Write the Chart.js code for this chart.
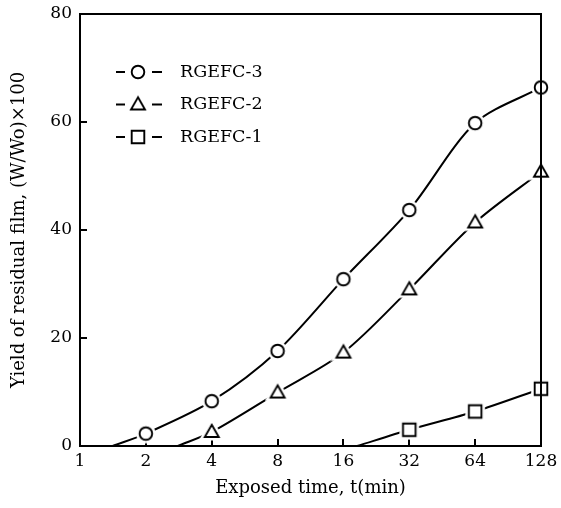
<!DOCTYPE html>
<html>
<head>
<meta charset="utf-8">
<script src="https://cdn.jsdelivr.net/npm/chart.js@4.4.1/dist/chart.umd.min.js"></script>
<style>
html, body { margin: 0; padding: 0; background: #fff; }
#wrap { width: 561px; height: 508px; position: relative; }
</style>
</head>
<body>
<div id="wrap"><canvas id="c"></canvas></div>
<script>
// ---- data ----
const xTickLabels = [1, 2, 4, 8, 16, 32, 64, 128];
const yTickLabels = [0, 20, 40, 60, 80];
const exposedTimes = [2, 4, 8, 16, 32, 64, 128];
const seriesNames = ['RGEFC-3', 'RGEFC-2', 'RGEFC-1'];
const rgefc3 = [2.3, 8.3, 17.6, 30.9, 43.7, 59.8, 66.4];
const rgefc2 = [null, 2.6, 9.9, 17.3, 29.0, 41.4, 50.8];
const rgefc1 = [null, null, null, null, 3.0, 6.4, 10.6];
// exposed time at which each drawn (fitted) curve leaves zero yield
const curveOnsetTimes = [1.41, 2.8, 18.5];

const FONT = "'DejaVu Serif', 'Liberation Serif', serif";

function makeMarker(shape) {
  const s = 26, m = s / 2;
  const c = document.createElement('canvas');
  c.width = s; c.height = s;
  const g = c.getContext('2d');
  function path() {
    g.beginPath();
    if (shape === 'circle') {
      g.arc(m, m, 6.3, 0, Math.PI * 2);
    } else if (shape === 'triangle') {
      g.moveTo(m, m - 7.2);
      g.lineTo(m + 7, m + 5);
      g.lineTo(m - 7, m + 5);
    } else {
      g.rect(m - 6.3, m - 6.3, 12.6, 12.6);
    }
    g.closePath();
  }
  g.lineJoin = 'miter';
  path();
  g.strokeStyle = '#fff'; g.lineWidth = 7; g.stroke();
  g.fillStyle = '#fff'; g.fill();
  g.strokeStyle = '#000'; g.lineWidth = 1.9; g.stroke();
  return c;
}
const markers = [makeMarker('circle'), makeMarker('triangle'), makeMarker('square')];

function buildSeries(values, onset) {
  const pts = [{ x: onset, y: 0 }];
  exposedTimes.forEach((t, i) => {
    if (values[i] !== null) pts.push({ x: t, y: values[i] });
  });
  return pts;
}

const allValues = [rgefc3, rgefc2, rgefc1];
const datasets = allValues.map((vals, i) => ({
  label: seriesNames[i],
  data: buildSeries(vals, curveOnsetTimes[i]),
  borderColor: '#000',
  borderWidth: 2,
  fill: false,
  tension: 0.3,
  clip: { left: 12, right: 12, top: 12, bottom: 0 },
  pointRadius: 6,
  pointStyle: (ctx) => ctx.dataIndex === 0 ? false : markers[i]
}));

const framePlugin = {
  id: 'frame',
  afterDatasetsDraw(chart) {
    const { ctx, chartArea: a } = chart;
    ctx.save();
    ctx.strokeStyle = '#000';
    ctx.lineWidth = 2;
    ctx.strokeRect(a.left, a.top, a.right - a.left, a.bottom - a.top);
    ctx.restore();
  }
};

const insetLegend = {
  id: 'insetLegend',
  afterDraw(chart) {
    const { ctx, chartArea: a } = chart;
    chart.data.datasets.forEach((ds, i) => {
      const y = a.top + 58 + i * 32.5;
      const x0 = a.left + 36;
      ctx.save();
      ctx.strokeStyle = '#000';
      ctx.lineWidth = 2.2;
      ctx.beginPath();
      ctx.moveTo(x0, y); ctx.lineTo(x0 + 9, y);
      ctx.moveTo(x0 + 36, y); ctx.lineTo(x0 + 46, y);
      ctx.stroke();
      const mk = markers[i];
      ctx.drawImage(mk, x0 + 22 - mk.width / 2, y - mk.height / 2);
      ctx.font = '17.5px ' + FONT;
      ctx.fillStyle = '#000';
      ctx.textBaseline = 'middle';
      ctx.textAlign = 'left';
      ctx.fillText(ds.label, a.left + 100, y);
      ctx.restore();
    });
  }
};

Chart.defaults.font.family = FONT;
Chart.defaults.font.size = 17;
Chart.defaults.color = '#000';

new Chart(document.getElementById('c'), {
  type: 'line',
  data: { datasets },
  plugins: [framePlugin, insetLegend],
  options: {
    responsive: true,
    maintainAspectRatio: false,
    animation: false,
    layout: { padding: { top: 14, right: 20, bottom: 0, left: 0 } },
    plugins: { legend: { display: false }, tooltip: { enabled: false } },
    scales: {
      x: {
        type: 'logarithmic',
        position: 'bottom',
        min: 1,
        max: 128,
        afterBuildTicks: (s) => { s.ticks = xTickLabels.map(v => ({ value: v })); },
        afterFit: (s) => { s.height = 62; s.paddingLeft = 0; s.paddingRight = 0; },
        ticks: { callback: (v) => String(v), padding: 12, maxRotation: 0, autoSkip: false, color: '#000', font: { size: 17 } },
        grid: { drawOnChartArea: false, tickLength: -7, color: '#000', lineWidth: 2 },
        border: { color: '#000', width: 2 },
        title: { display: true, text: 'Exposed time, t(min)', color: '#000', font: { size: 18 }, padding: { top: 0, bottom: 9 } }
      },
      y: {
        min: 0,
        max: 80,
        afterBuildTicks: (s) => { s.ticks = yTickLabels.map(v => ({ value: v })); },
        afterFit: (s) => { s.width = 80; s.paddingTop = 0; s.paddingBottom = 0; },
        ticks: { padding: 15, color: '#000', font: { size: 17 } },
        grid: { drawOnChartArea: false, tickLength: -7, color: '#000', lineWidth: 2 },
        border: { color: '#000', width: 2 },
        title: { display: true, text: 'Yield of residual film, (W/Wo)×100', color: '#000', font: { size: 18 }, padding: { top: 9, bottom: 0 } }
      }
    }
  }
});
</script>
</body>
</html>
